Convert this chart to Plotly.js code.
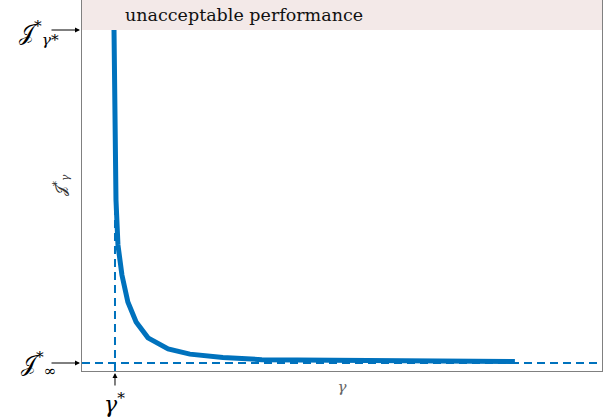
<!DOCTYPE html>
<html>
<head>
<meta charset="utf-8">
<script src="https://cdn.plot.ly/plotly-3.0.1.min.js"></script>
<style>html,body{margin:0;padding:0;background:#fff;}#chart{width:612px;height:419px;}</style>
</head>
<body>
<div id="chart"></div>
<script>
// Data (arbitrary units)
const gammaValues = [0.97, 1.0, 1.03, 1.09, 1.21, 1.39, 1.64, 2.0, 2.61, 3.27, 4.27, 5.45, 7.52, 10.24, 13.12];
const jStarValues = [10.0, 7.57, 5.41, 4.19, 3.38, 2.65, 2.11, 1.68, 1.38, 1.24, 1.15, 1.09, 1.07, 1.04, 1.04];
const gammaStar = 1.0;
const jInfStar = 1.0;
const jGammaStar = 10.0;
const xRange = [0, 15.76];
const yRange = [0.7838, 10.811];
const bandLabel = "unacceptable performance";

const blue = "#0072BD";
const serif = "DejaVu Serif";

const traces = [
  { x: [xRange[0], xRange[1]], y: [jInfStar, jInfStar], mode: "lines",
    line: { color: blue, width: 2, dash: "8px,5px" }, hoverinfo: "skip", showlegend: false },
  { x: [gammaStar, gammaStar], y: [yRange[0], jGammaStar], mode: "lines",
    line: { color: blue, width: 2, dash: "8px,5px" }, hoverinfo: "skip", showlegend: false },
  { x: gammaValues, y: jStarValues, mode: "lines",
    line: { color: blue, width: 5 }, showlegend: false }
];

const arrowStyle = { showarrow: true, arrowhead: 2, arrowsize: 1, arrowwidth: 1, arrowcolor: "#000", standoff: 2, text: " " };
const labelFont = { family: serif, size: 22, color: "#000" };

const layout = {
  width: 612, height: 419,
  margin: { l: 82, r: 10, t: 0, b: 48 },
  paper_bgcolor: "#fff", plot_bgcolor: "#fff",
  showlegend: false,
  font: { family: serif },
  xaxis: { range: xRange, showgrid: false, zeroline: false, showticklabels: false, ticks: "",
    showline: true, linecolor: "#808080", linewidth: 1, mirror: false,
    title: { text: "<i>γ</i>", font: { family: serif, size: 15, color: "#666" }, standoff: 10 } },
  yaxis: { range: yRange, showgrid: false, zeroline: false, showticklabels: false, ticks: "",
    showline: true, linecolor: "#808080", linewidth: 1, mirror: true,
    title: { text: "𝒥<sup>*</sup><sub><i>γ</i></sub>", font: { family: serif, size: 15, color: "#333" }, standoff: 10 } },
  shapes: [
    { type: "rect", xref: "paper", yref: "y", x0: 0, x1: 1, y0: jGammaStar, y1: yRange[1],
      fillcolor: "#f3e9e8", line: { width: 0 }, layer: "below" }
  ],
  annotations: [
    { xref: "x", yref: "y", x: 1.24, y: (jGammaStar + yRange[1]) / 2, text: bandLabel,
      showarrow: false, xanchor: "left", yanchor: "middle", font: { family: serif, size: 17.5, color: "#111" } },
    // arrows
    Object.assign({ xref: "paper", yref: "y", x: 0, y: jGammaStar, ax: -34, ay: 0 }, arrowStyle),
    Object.assign({ xref: "paper", yref: "y", x: 0, y: jInfStar, ax: -34, ay: 0 }, arrowStyle),
    Object.assign({ xref: "x", yref: "paper", x: gammaStar, y: 0, ax: 0, ay: 23 }, arrowStyle),
    // labels
    { xref: "paper", yref: "y", x: 0, y: jGammaStar, xshift: -65, yshift: -3, text: "𝒥<sup>*</sup><sub><i>γ</i>*</sub>",
      showarrow: false, font: labelFont },
    { xref: "paper", yref: "y", x: 0, y: jInfStar, xshift: -63, yshift: -1, text: "𝒥<sup>*</sup><sub>∞</sub>",
      showarrow: false, font: labelFont },
    { xref: "x", yref: "paper", x: gammaStar, y: 0, yshift: -48, text: "<i>γ</i><sup>*</sup>",
      showarrow: false, font: labelFont }
  ]
};

Plotly.newPlot("chart", traces, layout, { displayModeBar: false, staticPlot: true });
</script>
</body>
</html>
